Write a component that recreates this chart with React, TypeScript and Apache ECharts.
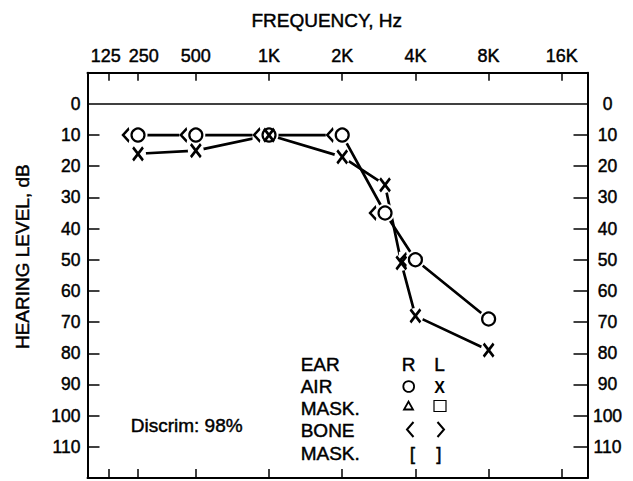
import React, { useEffect, useRef } from "react";
import * as echarts from "echarts";

// ---- data ----
const freqTicks = [125, 250, 500, 1000, 2000, 4000, 8000, 16000];
const freqLabels = ["125", "250", "500", "1K", "2K", "4K", "8K", "16K"];
const hearingTicks = [0, 10, 20, 30, 40, 50, 60, 70, 80, 90, 100, 110];

const rightAirFreq = [250, 500, 1000, 2000, 3000, 4000, 8000];
const rightAirDb = [10, 10, 10, 10, 35, 50, 69];
const rightBoneFreq = [250, 500, 1000, 2000, 3000, 4000];
const rightBoneDb = [10, 10, 10, 10, 35, 50];
const leftAirFreq = [250, 500, 1000, 2000, 3000, 3500, 4000, 8000];
const leftAirDb = [16, 15, 10, 17, 26, 51, 68, 79];

const legendRows = ["EAR", "AIR", "MASK.", "BONE", "MASK."];
const legendEars = ["R", "L"];
const discrimText = "Discrim: 98%";
const xTitle = "FREQUENCY, Hz";
const yTitle = "HEARING LEVEL, dB";

// ---- audiogram frequency scale (octaves from 1 kHz, compressed low end) ----
const LOW_END: Record<number, number> = { 125: -2.19, 250: -1.79 };
const octave = (f: number) => (LOW_END[f] !== undefined ? LOW_END[f] : Math.log2(f / 1000));
const X_MIN = -2.48;
const X_MAX = 4.351;

const INK = "#000";
const FONT = "Liberation Sans, Arial, sans-serif";
const HEAVY = { textBorderColor: INK, textBorderWidth: 0.45 };

const pts = (fs: number[], ds: number[]) => fs.map((f, i) => [octave(f), ds[i]]);

export default function App() {
  const ref = useRef<HTMLDivElement>(null);

  useEffect(() => {
    if (!ref.current) return;
    const chart = echarts.init(ref.current, undefined, { renderer: "svg" });

    const tickUnits = freqTicks.map(octave);
    const labelUnits = tickUnits.map((u, i) => (i === 0 ? u - 0.04 : i === 1 ? u + 0.08 : u));
    const labelFor = (v: number) => {
      let best = 0;
      labelUnits.forEach((u, i) => {
        if (Math.abs(u - v) < Math.abs(labelUnits[best] - v)) best = i;
      });
      return freqLabels[best];
    };

    const rightAir = pts(rightAirFreq, rightAirDb);
    const rightBone = pts(rightBoneFreq, rightBoneDb);
    const leftAir = pts(leftAirFreq, leftAirDb);

    const axisLineStyle = { color: INK, width: 2 };
    const tickStyle = { color: INK, width: 1.5 };
    const txt = (extra: any = {}) => ({ fontSize: 19, fontFamily: FONT, fill: INK, stroke: INK, lineWidth: 0.45, ...extra });

    const legendY = [364, 386.6, 408, 430.6, 453];

    const option: any = {
      animation: false,
      backgroundColor: "#fff",
      grid: { left: 87.5, top: 72.7, width: 500, height: 405.3 },
      xAxis: [
        {
          type: "value",
          position: "top",
          min: X_MIN,
          max: X_MAX,
          axisLine: { show: true, onZero: false, lineStyle: axisLineStyle },
          axisTick: { show: true, inside: true, length: 8, customValues: tickUnits, lineStyle: tickStyle },
          axisLabel: {
            show: true,
            customValues: labelUnits,
            formatter: (v: number) => labelFor(v),
            fontSize: 18,
            fontFamily: FONT,
            color: INK,
            margin: 8,
            ...HEAVY,
          },
          splitLine: { show: false },
        },
        {
          type: "value",
          position: "bottom",
          min: X_MIN,
          max: X_MAX,
          axisLine: { show: true, onZero: false, lineStyle: axisLineStyle },
          axisTick: { show: true, inside: true, length: 9, customValues: tickUnits, lineStyle: tickStyle },
          axisLabel: { show: false },
          splitLine: { show: false },
        },
      ],
      yAxis: [
        {
          type: "value",
          position: "left",
          inverse: true,
          min: -10,
          max: 120,
          interval: 10,
          axisLine: { show: true, onZero: false, lineStyle: axisLineStyle },
          axisTick: { show: true, inside: true, length: 12, customValues: hearingTicks.filter((v) => v > 0), lineStyle: tickStyle },
          axisLabel: { show: true, customValues: hearingTicks, fontSize: 17.5, fontFamily: FONT, color: INK, margin: 7, ...HEAVY },
          splitLine: { show: false },
        },
        {
          type: "value",
          position: "right",
          inverse: true,
          min: -10,
          max: 120,
          interval: 10,
          axisLine: { show: true, onZero: false, lineStyle: axisLineStyle },
          axisTick: { show: true, inside: true, length: 14, customValues: hearingTicks.filter((v) => v > 0), lineStyle: tickStyle },
          axisLabel: { show: true, customValues: hearingTicks, fontSize: 17.5, fontFamily: FONT, color: INK, margin: 20, align: "center", ...HEAVY },
          splitLine: { show: false },
        },
      ],
      series: [
        {
          type: "line",
          xAxisIndex: 1,
          yAxisIndex: 0,
          data: rightAir,
          symbol: "none",
          lineStyle: { color: INK, width: 2.7 },
          z: 2,
          markLine: {
            silent: true,
            symbol: ["none", "none"],
            label: { show: false },
            lineStyle: { color: INK, width: 1.5, type: "solid" },
            data: [{ yAxis: 0 }],
          },
        },
        {
          type: "line",
          xAxisIndex: 1,
          yAxisIndex: 0,
          data: leftAir,
          symbol: "none",
          lineStyle: { color: INK, width: 2.7 },
          z: 2,
        },
        {
          type: "scatter",
          xAxisIndex: 1,
          yAxisIndex: 0,
          data: rightAir,
          symbol: "circle",
          symbolSize: 19,
          itemStyle: { color: "#fff", opacity: 1 },
          z: 3,
        },
        {
          type: "scatter",
          xAxisIndex: 1,
          yAxisIndex: 0,
          data: leftAir,
          symbol: "circle",
          symbolSize: 16,
          itemStyle: { color: "#fff", opacity: 1 },
          z: 3,
        },
        {
          type: "scatter",
          xAxisIndex: 1,
          yAxisIndex: 0,
          data: rightBone,
          symbol: "rect",
          symbolSize: [9, 16],
          symbolOffset: [-12, 0],
          itemStyle: { color: "#fff", opacity: 1 },
          z: 3,
        },
        {
          type: "scatter",
          xAxisIndex: 1,
          yAxisIndex: 0,
          data: rightAir,
          symbol: "circle",
          symbolSize: 13,
          itemStyle: { color: "#fff", borderColor: INK, borderWidth: 2.2, opacity: 1 },
          z: 4,
        },
        {
          type: "scatter",
          xAxisIndex: 1,
          yAxisIndex: 0,
          data: rightBone,
          symbol: "path://M6,0L0,6.5L6,13",
          symbolSize: [6, 13],
          symbolOffset: [-12, 0],
          itemStyle: { color: "rgba(0,0,0,0)", borderColor: INK, borderWidth: 2.2, opacity: 1 },
          z: 4,
        },
        {
          type: "scatter",
          xAxisIndex: 1,
          yAxisIndex: 0,
          data: leftAir,
          symbol: "path://M0,0L10,13M10,0L0,13",
          symbolSize: [10, 13],
          itemStyle: { color: "rgba(0,0,0,0)", borderColor: INK, borderWidth: 2.8, opacity: 1 },
          z: 5,
        },
      ],
      graphic: [
        {
          type: "text",
          x: 326.7,
          y: 20,
          style: txt({ text: xTitle, align: "center", verticalAlign: "middle" }),
        },
        {
          type: "text",
          x: 22.5,
          y: 256.7,
          rotation: Math.PI / 2,
          style: txt({ text: yTitle, align: "center", verticalAlign: "middle" }),
        },
        {
          type: "text",
          x: 130.7,
          y: 425,
          style: txt({ text: discrimText, align: "left", verticalAlign: "middle" }),
        },
        ...legendRows.map((t, i) => ({
          type: "text",
          x: 300.7,
          y: legendY[i],
          style: txt({ text: t, align: "left", verticalAlign: "middle" }),
        })),
        ...legendEars.map((t, i) => ({
          type: "text",
          x: i === 0 ? 408.5 : 439.5,
          y: legendY[0],
          style: txt({ text: t, align: "center", verticalAlign: "middle" }),
        })),
        {
          type: "circle",
          shape: { cx: 408.7, cy: 386.5, r: 5.4 },
          style: { fill: "none", stroke: INK, lineWidth: 1.8 },
        },
        {
          type: "text",
          x: 439.5,
          y: 387,
          style: { text: "X", fontSize: 16, fontWeight: "bold", fontFamily: FONT, fill: INK, align: "center", verticalAlign: "middle" },
        },
        {
          type: "polygon",
          shape: { points: [[404, 409.5], [413, 409.5], [408.5, 401.5]] },
          style: { fill: "none", stroke: INK, lineWidth: 1.8 },
        },
        {
          type: "rect",
          shape: { x: 434, y: 400.5, width: 12, height: 11 },
          style: { fill: "none", stroke: INK, lineWidth: 1.2 },
        },
        {
          type: "polyline",
          shape: { points: [[413.5, 422], [407, 429.5], [413.5, 437]] },
          style: { fill: "none", stroke: INK, lineWidth: 2 },
        },
        {
          type: "polyline",
          shape: { points: [[437.5, 422], [444, 429.5], [437.5, 437]] },
          style: { fill: "none", stroke: INK, lineWidth: 2 },
        },
        {
          type: "text",
          x: 412.5,
          y: 453,
          style: txt({ text: "[", align: "center", verticalAlign: "middle" }),
        },
        {
          type: "text",
          x: 438.8,
          y: 453,
          style: txt({ text: "]", align: "center", verticalAlign: "middle" }),
        },
      ],
    };

    chart.setOption(option);
    return () => chart.dispose();
  }, []);

  return (
    <div
      ref={ref}
      style={{ position: "absolute", left: 0, top: 0, width: 633, height: 481, background: "#fff" }}
    />
  );
}
